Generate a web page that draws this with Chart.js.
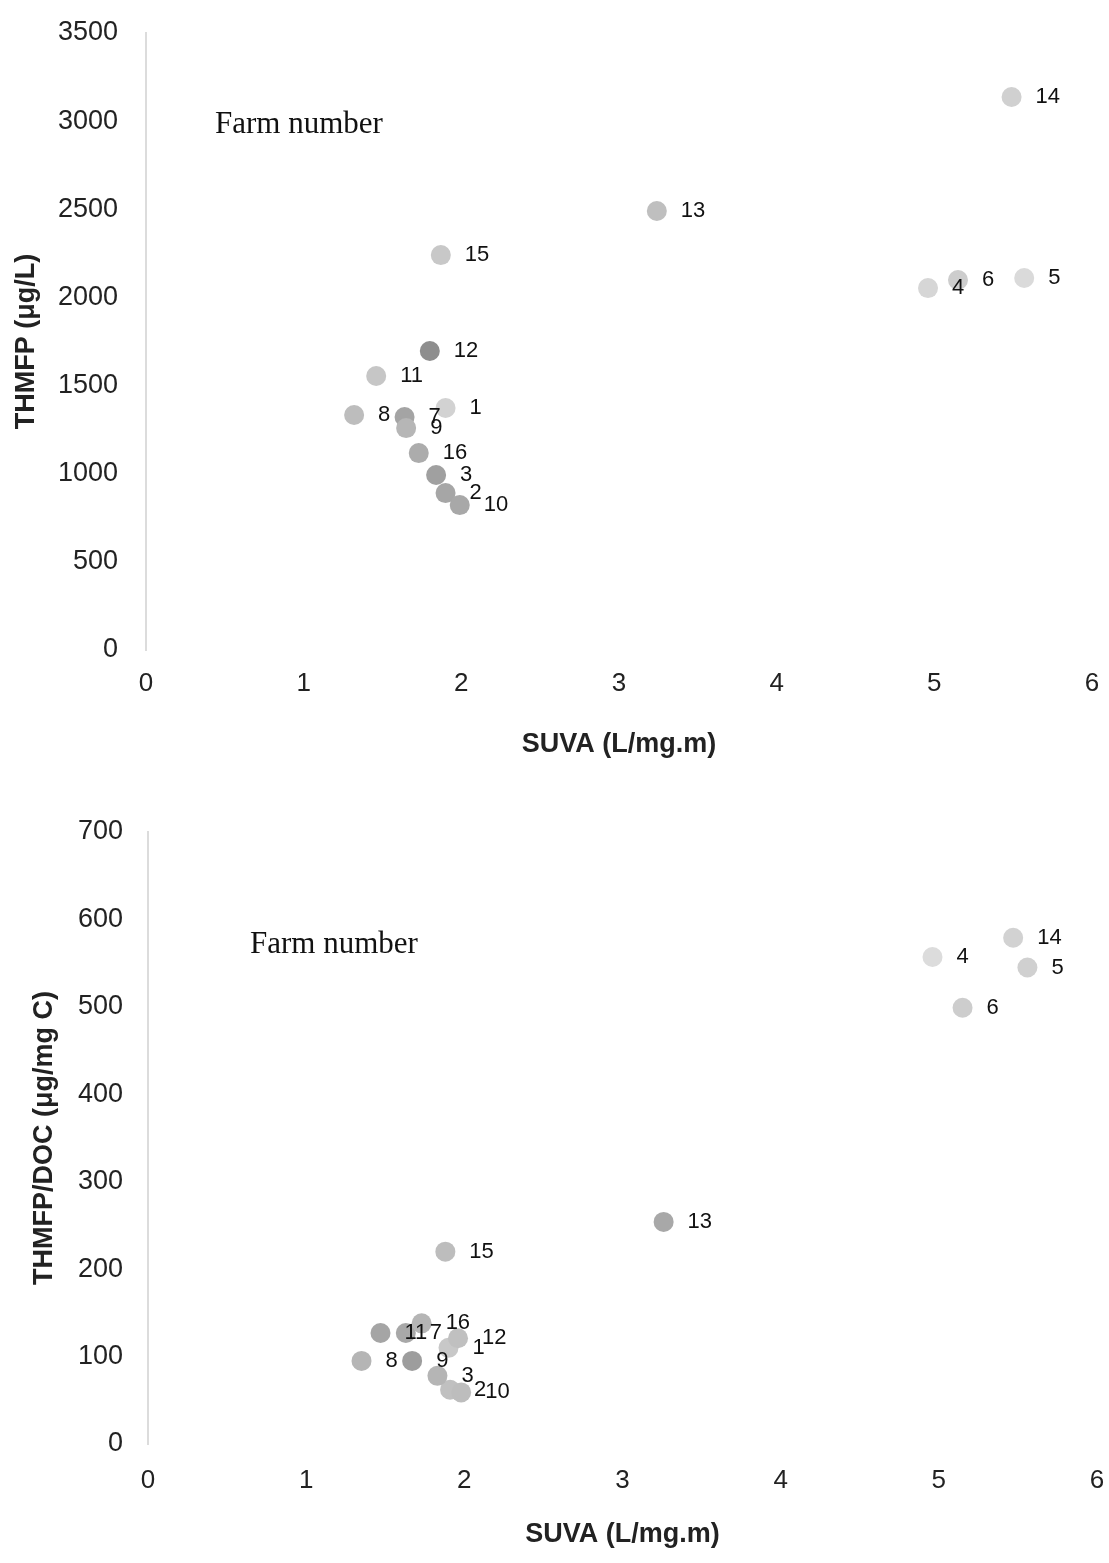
<!DOCTYPE html>
<html>
<head>
<meta charset="utf-8">
<script src="https://cdn.jsdelivr.net/npm/chart.js@4.4.1/dist/chart.umd.min.js"></script>
<style>
  html, body { margin: 0; padding: 0; background: #ffffff; }
  #wrap { position: relative; width: 1109px; height: 1563px; }
  canvas { position: absolute; left: 0; }
  #c1 { top: 0; }
  #c2 { top: 770px; }
</style>
</head>
<body>
<div id="wrap">
  <canvas id="c1" width="1109" height="770"></canvas>
  <canvas id="c2" width="1109" height="793"></canvas>
</div>
<script>
// ---- data ----
const farms = ['1','2','3','4','5','6','7','8','9','10','11','12','13','14','15','16'];

// top chart: SUVA (L/mg.m) vs THMFP (ug/L)
const suvaTop = [1.90, 1.90, 1.84, 4.96, 5.57, 5.15, 1.64, 1.32, 1.65, 1.99, 1.46, 1.80, 3.24, 5.49, 1.87, 1.73];
const thmfp   = [1373, 890, 993, 2053, 2110, 2099, 1322, 1333, 1259, 822, 1554, 1696, 2490, 3137, 2240, 1117];

// bottom chart: SUVA (L/mg.m) vs THMFP/DOC (ug/mg C)
const suvaBottom = [1.90, 1.91, 1.83, 4.96, 5.56, 5.15, 1.63, 1.35, 1.67, 1.98, 1.47, 1.96, 3.26, 5.47, 1.88, 1.73];
const thmfpDoc   = [110, 62, 78, 557, 545, 499, 127, 95, 95, 59, 127, 121, 254, 579, 220, 138];

const xTicks = [0, 1, 2, 3, 4, 5, 6];
const yTicksTop = [0, 500, 1000, 1500, 2000, 2500, 3000, 3500];
const yTicksBottom = [0, 100, 200, 300, 400, 500, 600, 700];

// ---- styles ----
const colorsTop = ['#d2d2d2','#a6a6a6','#a0a0a0','#d6d6d6','#dadada','#cdcdcd','#a4a4a4','#bdbdbd',
                   '#b6b6b6','#a8a8a8','#c6c6c6','#8e8e8e','#bfbfbf','#d0d0d0','#c8c8c8','#acacac'];
const colorsBottom = ['#c8c8c8','#c0c0c0','#b5b5b5','#dcdcdc','#d0d0d0','#cdcdcd','#a8a8a8','#b5b5b5',
                      '#9d9d9d','#bdbdbd','#a5a5a5','#c0c0c0','#a8a8a8','#d2d2d2','#bdbdbd','#b5b5b5'];
const SANS = 'Arial, "Liberation Sans", sans-serif';
const SERIF = '"Times New Roman", "Liberation Serif", serif';

const pointLabels = {
  id: 'pointLabels',
  afterDatasetsDraw(chart, args, opts) {
    const ctx = chart.ctx;
    const meta = chart.getDatasetMeta(0);
    ctx.save();
    ctx.font = '22px ' + SANS;
    ctx.fillStyle = '#111';
    ctx.textAlign = 'left';
    ctx.textBaseline = 'middle';
    meta.data.forEach((pt, i) => {
      ctx.fillText(opts.labels[i], pt.x + 24, pt.y);
    });
    ctx.restore();
  }
};

const noteText = {
  id: 'noteText',
  afterDraw(chart, args, opts) {
    const ctx = chart.ctx;
    ctx.save();
    ctx.font = '31px ' + SERIF;
    ctx.fillStyle = '#111';
    ctx.textAlign = 'left';
    ctx.textBaseline = 'middle';
    ctx.fillText(opts.text, opts.x, opts.y);
    ctx.restore();
  }
};

function zeroPad(s) { s.paddingTop = 0; s.paddingBottom = 0; s.paddingLeft = 0; s.paddingRight = 0; }

function makeChart(id, xs, ys, colors, yMax, yTitle, cfg) {
  const pts = xs.map((x, i) => ({ x: x, y: ys[i] }));
  return new Chart(document.getElementById(id), {
    type: 'scatter',
    data: {
      datasets: [{
        data: pts,
        backgroundColor: colors,
        borderWidth: 0,
        pointRadius: 10,
        pointHoverRadius: 10
      }]
    },
    options: {
      responsive: false,
      animation: false,
      events: [],
      layout: { padding: { top: cfg.area.top, right: cfg.w - cfg.area.right, left: 0, bottom: 0 } },
      plugins: {
        legend: { display: false },
        tooltip: { enabled: false },
        pointLabels: { labels: farms },
        noteText: { text: 'Farm number', x: cfg.noteX, y: cfg.noteY }
      },
      scales: {
        x: {
          type: 'linear',
          min: 0, max: 6,
          afterBuildTicks: (s) => { s.ticks = xTicks.map(v => ({ value: v })); },
          grid: { display: false, drawTicks: false },
          border: { display: false },
          ticks: { color: '#222', font: { family: SANS, size: 26 }, padding: cfg.xTickPad,
                   callback: (v) => String(v) },
          title: {
            display: true, text: 'SUVA (L/mg.m)', color: '#222',
            font: { family: SANS, size: 27, weight: 'bold' },
            padding: { top: 0, bottom: cfg.xTitlePad }
          },
          afterFit: (s) => { s.height = cfg.h - cfg.area.bottom; zeroPad(s); }
        },
        y: {
          type: 'linear',
          min: 0, max: yMax,
          afterBuildTicks: (s) => { s.ticks = cfg.yTicks.map(v => ({ value: v })); },
          grid: { display: false, drawTicks: false },
          border: { display: true, color: '#dcdcdc', width: 2 },
          ticks: { color: '#222', font: { family: SANS, size: 27 }, padding: cfg.yTickPad,
                   callback: (v) => String(v) },
          title: {
            display: true, text: yTitle, color: '#222',
            font: { family: SANS, size: 27, weight: 'bold' },
            padding: { top: cfg.yTitlePad, bottom: 0 }
          },
          afterFit: (s) => { s.width = cfg.area.left; zeroPad(s); }
        }
      }
    },
    plugins: [pointLabels, noteText]
  });
}

makeChart('c1', suvaTop, thmfp, colorsTop, 3500, 'THMFP (\u03bcg/L)', {
  w: 1109, h: 770,
  area: { left: 146, right: 1092, top: 33, bottom: 650 },
  xTickPad: 18, xTitlePad: 9, yTickPad: 28, yTitlePad: 10,
  yTicks: yTicksTop, noteX: 215, noteY: 125
});

makeChart('c2', suvaBottom, thmfpDoc, colorsBottom, 700, 'THMFP/DOC (\u03bcg/mg C)', {
  w: 1109, h: 793,
  area: { left: 148, right: 1097, top: 62, bottom: 674 },
  xTickPad: 21, xTitlePad: 12, yTickPad: 25, yTitlePad: 28,
  yTicks: yTicksBottom, noteX: 250, noteY: 175
});
</script>
</body>
</html>
